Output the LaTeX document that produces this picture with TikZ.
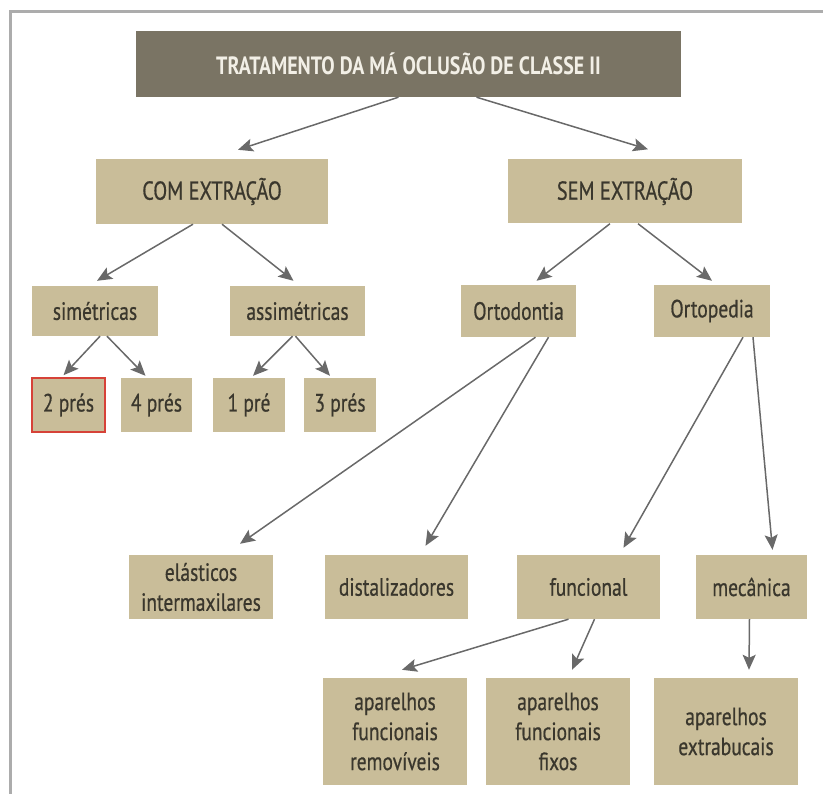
\documentclass[tikz,border=0pt]{standalone}
\usepackage{fontspec}
\setmainfont{PT Sans}[FakeStretch=0.8]
\newfontfamily\boxfont{PT Sans}[FakeStretch=0.78,FakeBold=0.6]
\newfontfamily\titlefont{PT Sans}[FakeStretch=0.8]
\usetikzlibrary{arrows.meta}
\usepackage{xcolor}
\definecolor{boxtan}{RGB}{201,189,153}
\definecolor{titlegray}{RGB}{122,116,100}
\definecolor{inkbrown}{RGB}{58,55,45}
\definecolor{arrowgray}{RGB}{105,105,105}
\definecolor{framegray}{RGB}{172,172,172}
\definecolor{markred}{RGB}{214,66,56}

\begin{document}
\begin{tikzpicture}[
    x=1pt,y=-1pt,
    every node/.style={fill=boxtan, text=inkbrown, inner sep=0pt, align=center,
        font=\boxfont\fontsize{25}{30}\selectfont},
    box/.style 2 args={minimum width=#1pt, minimum height=#2pt},
    arr/.style={draw=arrowgray, line width=1.5pt, -{Stealth[length=15pt,width=13pt,inset=3pt]}}
]
    \useasboundingbox (0,0) rectangle (823,794);
    \draw[framegray, line width=3pt] (823,12) -- (10,12) -- (10,794);

    % top
    \node[box={545}{66}, fill=titlegray, text={rgb,255:red,242;green,239;blue,230},
        font=\titlefont\bfseries\fontsize{25}{30}\selectfont] (title) at (408.5,64) {TRATAMENTO DA MÁ OCLUSÃO DE CLASSE II};
    \node[box={232}{65}, font=\boxfont\fontsize{26}{30}\selectfont] (com) at (212,191.5) {COM EXTRAÇÃO};
    \node[box={234}{64}, font=\boxfont\fontsize{26}{30}\selectfont] (sem) at (625,191.5) {SEM EXTRAÇÃO};

    % com extracao
    \node[box={126}{50}] (sim) at (95,311) {simétricas};
    \node[box={135}{50}] (assim) at (297.5,311) {assimétricas};
    \node[box={73}{54}, draw=markred, line width=1.6pt] (p2) at (68.5,405) {2 prés};
    \node[box={71}{54}] (p4) at (156.5,405) {4 prés};
    \node[box={72}{54}] (p1) at (249,405) {1 pré};
    \node[box={72}{54}] (p3) at (340,405) {3 prés};

    % sem extracao
    \node[box={115}{52}] (orto) at (518.5,311) {Ortodontia};
    \node[box={116}{52}] (ortop) at (712,311) {Ortopedia};
    \node[box={144}{64}] (elast) at (201,587) {elásticos\\intermaxilares};
    \node[box={143}{64}] (dist) at (396.5,587) {distalizadores};
    \node[box={143}{64}] (func) at (588.5,587) {funcional};
    \node[box={111}{64}] (mec) at (751.5,587) {mecânica};
    \node[box={144}{107}] (rem) at (395,731.5) {aparelhos\\funcionais\\removíveis};
    \node[box={144}{107}] (fix) at (558,731.5) {aparelhos\\funcionais\\fixos};
    \node[box={144}{107}] (extra) at (726,731.5) {aparelhos\\extrabucais};

    \draw[arr] ([xshift=-10pt]title.south) -- ([xshift=26pt,yshift=9pt]com.north);
    \draw[arr] ([xshift=68pt]title.south) -- ([xshift=23pt,yshift=10pt]sem.north);

    \draw[arr] ([xshift=-19pt]com.south) -- ([xshift=2pt,yshift=5pt]sim.north);
    \draw[arr] ([xshift=10pt]com.south) -- ([xshift=-4pt,yshift=5pt]assim.north);
    \draw[arr] ([xshift=5pt]sim.south) -- ([xshift=-5pt,yshift=2pt]p2.north);
    \draw[arr] ([xshift=12pt]sim.south) -- ([xshift=-11pt,yshift=2pt]p4.north);
    \draw[arr] ([xshift=-5pt]assim.south) -- ([xshift=4pt,yshift=2pt]p1.north);
    \draw[arr] ([xshift=-2pt]assim.south) -- ([xshift=-10pt,yshift=2pt]p3.north);

    \draw[arr] ([xshift=-15pt]sem.south) -- ([xshift=18pt,yshift=4pt]orto.north);
    \draw[arr] ([xshift=13pt]sem.south) -- ([yshift=4pt]ortop.north);
    \draw[arr] ([xshift=17pt]orto.south) -- ([xshift=39pt,yshift=11pt]elast.north);
    \draw[arr] ([xshift=30pt]orto.south) -- ([xshift=29pt,yshift=9pt]dist.north);
    \draw[arr] ([xshift=31pt]ortop.south) -- ([xshift=35pt,yshift=7pt]func.north);
    \draw[arr] ([xshift=41pt]ortop.south) -- ([xshift=21pt,yshift=5pt]mec.north);

    \draw[arr] ([xshift=-20pt]func.south) -- ([xshift=7pt,yshift=8pt]rem.north);
    \draw[arr] ([xshift=6pt]func.south) -- ([xshift=14pt,yshift=8pt]fix.north);
    \draw[arr] ([xshift=-2pt]mec.south) -- ([xshift=23pt,yshift=8pt]extra.north);
\end{tikzpicture}
\end{document}
